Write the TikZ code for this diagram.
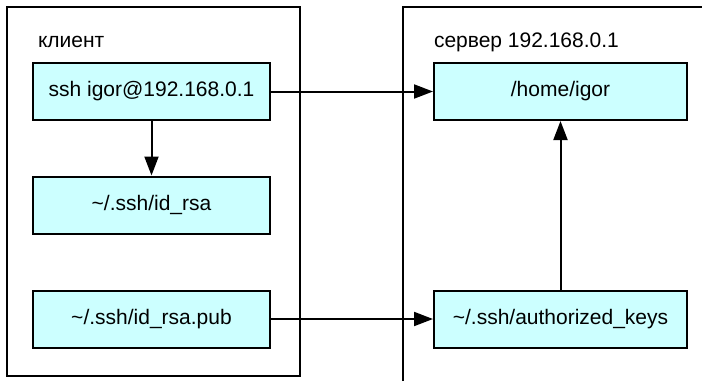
\documentclass[tikz,border=0pt]{standalone}
\usepackage{fontspec}
\setmainfont{Liberation Sans}
\usepackage{tikz}
\usetikzlibrary{positioning, arrows.meta}

\definecolor{boxfill}{HTML}{CCFFFF}

\begin{document}
\begin{tikzpicture}[x=1pt, y=-1pt, >={Triangle[length=19pt, width=14pt]},
  line width=2pt,
  filebox/.style={draw, fill=boxfill, minimum height=57pt, inner sep=0pt,
    font=\fontsize{21}{25}\selectfont},
  panel/.style={font=\fontsize{21}{25}\selectfont, anchor=base west, inner sep=0pt}]

\useasboundingbox (0, 0) rectangle (702, 381);

% --- Panels ---
\draw (7, 7) rectangle (300, 376);
\draw (403, 381) -- (403, 7) -- (702, 7);
\node[panel] (client) at (37, 47) {клиент};
\node[panel] (server) at (433, 47) {сервер 192.168.0.1};

% --- Client side ---
\node[filebox, minimum width=237pt] (ssh) at (151.5, 91.5) {ssh igor@192.168.0.1};
\node[filebox, minimum width=237pt] (idrsa) at (151.5, 205) {\textasciitilde/.ssh/id\_rsa};
\node[filebox, minimum width=237pt] (idpub) at (151.5, 319) {\textasciitilde/.ssh/id\_rsa.pub};

% --- Server side ---
\node[filebox, minimum width=253pt] (home) at (560.5, 91.5) {/home/igor};
\node[filebox, minimum width=253pt] (authkeys) at (560.5, 319) {\textasciitilde/.ssh/authorized\_keys};

% --- Connectors ---
\draw[->] (ssh) -- (idrsa);
\draw[->] (ssh) -- (home);
\draw[->] (idpub) -- (authkeys);
\draw[->] (authkeys) -- (home);

\end{tikzpicture}
\end{document}
